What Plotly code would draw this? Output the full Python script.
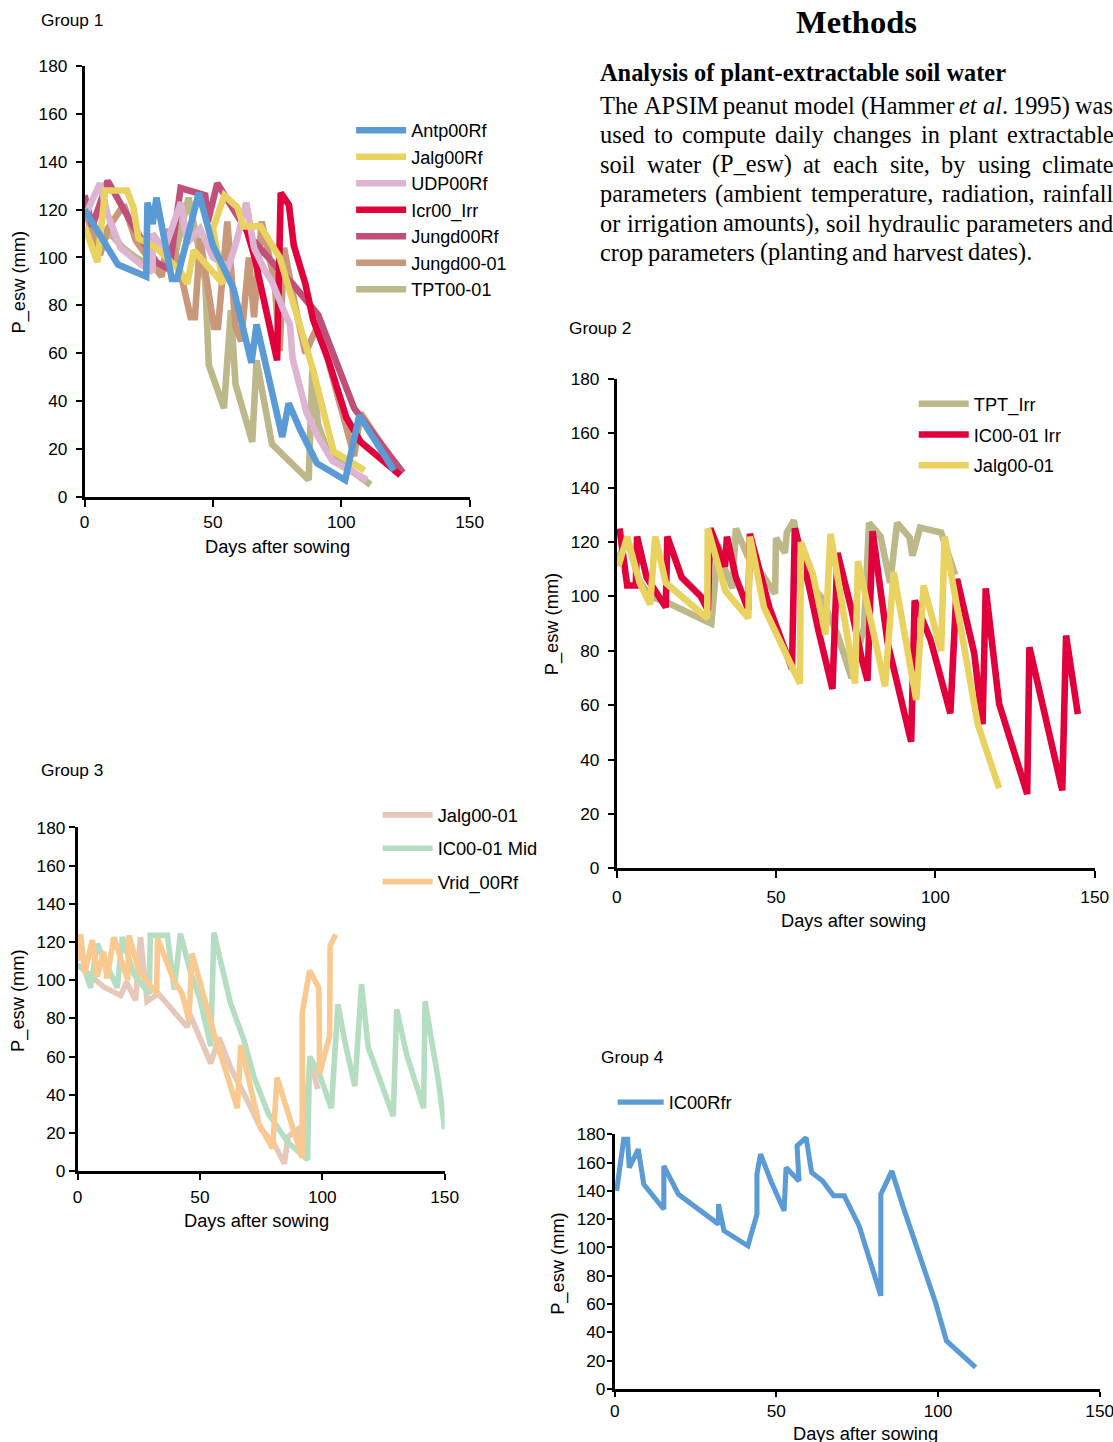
import plotly.graph_objects as go

# Target positions are given in reference-picture pixels (1113 x 1442).
# Measured rendering transform: picture = S * (figure_px + M)
SX, MX = 0.983, 4.5
SY, MY = 0.987, 9.0
W, H = 1128, 1453
def fx(p): return p / SX - MX
def fy(p): return p / SY - MY
def X(p): return fx(p) / W
def Y(p): return 1 - fy(p) / H
K = 1 / 0.985  # size factor

# ---------------- Group 1 data ----------------
antp_day = [0, 13, 24, 24.5, 26.5, 28, 34, 36, 44.5, 50, 58, 65, 67, 77, 79.5, 84, 90.5, 101.5, 107, 120.5]
antp_val = [120, 97, 92, 123, 114, 125, 91, 91, 127, 105, 87, 56, 72, 25, 39, 28, 14, 7, 34, 11]

jalgrf_day = [0, 5, 8, 16.5, 19, 21, 28, 37.5, 40, 42.5, 54, 50, 54.5, 59.5, 62, 68.5, 76, 84, 89, 97, 109]
jalgrf_val = [113, 98, 128, 128, 121, 108, 104, 94, 89, 103, 89, 112, 126, 121, 113, 113, 100, 72, 53, 19, 11]

udp_day = [0, 6, 9, 14, 22, 26.5, 26.5, 31, 37.5, 40, 45, 50, 56, 59, 63, 66, 70, 73, 77.5, 80, 81, 86.5, 91, 96.5, 110]
udp_val = [117, 131, 118, 104, 97, 94, 110, 103, 123, 106, 112, 100, 96, 106, 123, 104, 95, 90, 78, 72, 58, 35, 25, 15, 7]

icr_day = [63, 66, 75, 76.4, 79.6, 81.5, 86, 89, 95, 102, 107.5, 123]
icr_val = [112, 101, 57, 127, 122, 105, 89, 74, 57, 33, 23, 9]

jungrf_day = [0, 3, 9, 19, 28, 33, 37.4, 47, 48, 51.7, 58, 65, 76.4, 81, 91, 100, 105, 124]
jungrf_val = [126, 113, 132, 113, 98, 95, 129, 126, 115, 131, 120, 108, 94, 89, 76, 52, 37, 10]

jung01_day = [0, 6, 9, 15.3, 20, 25, 30, 33, 36, 41.3, 43, 45, 50.4, 52, 55.6, 58.8, 61, 64, 66, 69, 74, 76, 77.7, 82, 86, 91, 105, 107.5, 123]
jung01_val = [120, 101, 112, 122, 107, 100, 92, 112, 100, 75, 75, 108, 71, 71, 115, 71, 65, 100, 75, 115, 90, 61, 104, 80, 60, 72, 17, 35, 10]

tpt01_day = [0, 5, 10, 15, 20, 25, 30, 35, 40.5, 44, 47, 48.4, 54.3, 57, 58.8, 65.3, 67, 73, 87.3, 88.7, 91, 95, 111.4]
tpt01_val = [113, 105, 110, 104, 100, 97, 95, 100, 125, 105, 90, 55, 37, 78, 47, 23, 57, 22, 7, 53, 30, 18, 5]

# ---------------- Group 2 data ----------------
tptirr_day = [0, 3.3, 7, 10.5, 15.4, 28.6, 29.7, 31.9, 34, 36.3, 37.4, 41, 45.7, 49.7, 50, 52.8, 53.4, 55.6, 57, 60, 64, 69.3, 73.7, 77.6, 79.2, 82.8, 85.8, 88, 91.9, 92.8, 95.2, 101.8, 106.2]
tptirr_val = [113, 121, 106, 100, 98, 90, 90, 119, 110, 103, 125, 115, 108, 101, 121.5, 116, 123.5, 128, 118, 105, 100, 86, 70, 88.6, 127, 122, 105, 127, 121.7, 115, 125.3, 123.5, 108]

ic01irr_day = [0.9, 3.3, 6, 6.4, 9.4, 15.4, 15.9, 20.4, 26.4, 28.6, 29.4, 34, 34.6, 37.4, 41.3, 41.8, 47.9, 55, 55.9, 59.4, 63.3, 67.7, 69.3, 73.7, 77, 78.7, 80.3, 85, 92.4, 93.5, 98.5, 104.7, 106.8, 112.2, 114.8, 115.8, 120, 128.8, 129.5, 139.8, 141, 144.7]
ic01irr_val = [125, 104, 104, 122, 107, 96, 122, 107, 100, 95, 125, 111, 122, 107, 95, 123, 96, 73.5, 125, 109, 87.5, 66, 116, 95, 76.5, 69, 124, 83, 46.6, 98.5, 84, 57, 106.4, 79, 53, 103, 60.5, 27.4, 81.3, 28.7, 85.6, 56.8]

jalg01_day = [0.5, 3.3, 7.2, 10.5, 12.1, 15.4, 28.4, 28.6, 34.1, 41.3, 41.8, 46.2, 57.5, 57.8, 61.6, 65.5, 67.1, 74.8, 75.7, 84.2, 86.9, 94, 96.3, 101.8, 102.9, 113.3, 120]
jalg01_val = [111, 122, 105, 97, 122, 105, 92, 125, 102, 92, 122, 96, 68, 120, 108, 86, 123, 68, 113, 67, 109, 62, 104, 80, 122, 53, 29.5]

# ---------------- Group 3 data ----------------
vrid_day = [0, 1.2, 3, 6, 8, 10.6, 12, 14.8, 20.5, 21, 25, 32.3, 32.7, 39.3, 42.7, 45.5, 46.8, 55.8, 65.3, 66.7, 74.2, 79.7, 81.5, 91.8, 91.8, 94.8, 98.6, 98.9, 103, 103.2, 105.5]
vrid_val = [110, 124, 104, 121, 102, 115, 101, 122.5, 100, 123.5, 105, 93, 122, 100, 93, 79, 114, 72, 33, 66, 24.5, 12, 49, 7, 83, 105, 96, 51, 71, 118, 124]

ic01mid_day = [0, 3, 5.3, 8, 16.2, 18.3, 23, 29.3, 29.7, 36.7, 39.5, 42, 46, 50, 54.4, 55.7, 62.5, 68, 72.2, 78, 86, 94, 94.8, 98.5, 103.7, 106.4, 109.2, 113.3, 116, 118.8, 129, 130.4, 134.5, 141.4, 142, 147.5, 150]
ic01mid_val = [108, 105, 96, 119, 96, 122.6, 103, 93, 123.5, 123.5, 95, 124.4, 105, 90, 65.5, 125, 88, 68.5, 49, 30, 15, 6, 60, 52, 33, 87.4, 68, 44.6, 98, 64.7, 28.8, 84.8, 61, 33, 89, 47, 22]

jalg01b_day = [0, 1.2, 10.8, 17.6, 20, 23.7, 25.7, 28.4, 33, 44.8, 46, 54.4, 57.8, 62.6, 69, 75, 80, 84.5, 86, 90, 92, 95, 98.2]
jalg01b_val = [108, 107, 96.4, 92, 99, 89.5, 122.6, 89, 93, 75.5, 82, 56.5, 70, 54, 38, 22, 15, 4, 18, 22, 15, 58, 43]

# ---------------- Group 4 data ----------------
ic00rfr_day = [0.6, 2.8, 4, 4.5, 7.3, 9, 15.2, 15.2, 19.7, 32.1, 32.1, 33.8, 41.2, 44, 44, 45.1, 48.5, 52.4, 53, 57, 56.4, 59.2, 60.9, 64.3, 67.7, 71, 75.6, 82.3, 82.3, 85.7, 89.1, 95.9, 99.2, 102.6, 111.6]
ic00rfr_val = [140, 176.5, 176.5, 156.5, 169.4, 144.7, 127, 157.6, 137.6, 116.5, 130.6, 111.8, 101.2, 123.5, 151.8, 165.9, 145.9, 125.9, 156.5, 147, 171.8, 177.6, 153, 147, 136.5, 136.5, 115.3, 65.9, 137.6, 154, 129.4, 84.7, 61.2, 34.1, 15.3]

C_BLUE = "#5b9bd5"; C_YEL = "#e9d25f"; C_PINK = "#ddb4d2"; C_RED = "#e2003c"
C_MAUVE = "#c0507a"; C_SALMON = "#c9977a"; C_OLIVE = "#bdb88a"
C_ORANGE = "#f9c98f"; C_GREEN = "#b5ddc1"; C_BEIGE = "#e6c8ba"

fig = go.Figure()

def add(name, xs, ys, color, width, xa, ya, legend, group=None):
    fig.add_trace(go.Scatter(x=xs, y=ys, mode="lines", name=name,
                             line=dict(color=color, width=width * K),
                             xaxis=xa, yaxis=ya, legend=legend,
                             legendgroup=group or name, hoverinfo="skip"))

# Group 1 (drawn bottom to top; legend reversed)
add("TPT00-01", tpt01_day, tpt01_val, C_OLIVE, 6.5, "x", "y", "legend")
add("Jungd00-01", jung01_day, jung01_val, C_SALMON, 6.5, "x", "y", "legend")
add("Jungd00Rf", jungrf_day, jungrf_val, C_MAUVE, 6.5, "x", "y", "legend")
add("Icr00_Irr", icr_day, icr_val, C_RED, 6.5, "x", "y", "legend")
add("UDP00Rf", udp_day, udp_val, C_PINK, 6.5, "x", "y", "legend")
add("Jalg00Rf", jalgrf_day, jalgrf_val, C_YEL, 6.5, "x", "y", "legend")
add("Antp00Rf", antp_day, antp_val, C_BLUE, 6.5, "x", "y", "legend")

# Group 2
add("TPT_Irr", tptirr_day, tptirr_val, C_OLIVE, 6.5, "x2", "y2", "legend2")
add("IC00-01 Irr", ic01irr_day, ic01irr_val, C_RED, 6.5, "x2", "y2", "legend2")
add("Jalg00-01", jalg01_day, jalg01_val, C_YEL, 6.5, "x2", "y2", "legend2", "g2jalg")

# Group 3
add("Jalg00-01", jalg01b_day, jalg01b_val, C_BEIGE, 5.5, "x3", "y3", "legend3", "g3jalg")
add("IC00-01 Mid", ic01mid_day, ic01mid_val, C_GREEN, 5.5, "x3", "y3", "legend3")
add("Vrid_00Rf", vrid_day, vrid_val, C_ORANGE, 5.5, "x3", "y3", "legend3")

# Group 4
add("IC00Rfr", ic00rfr_day, ic00rfr_val, C_BLUE, 5, "x4", "y4", "legend4")

SANS = "Liberation Sans"
SERIF = "Liberation Serif"
tickfont = dict(family=SANS, size=17 * K, color="black")
common = dict(showgrid=False, zeroline=False, showline=True, linecolor="black",
              linewidth=2.5 * K, ticks="outside", tickcolor="black", tickwidth=2,
              tickfont=tickfont, fixedrange=True)

def xax(x0, x1, yb, anchor, tl, so):
    return dict(common, domain=[X(x0), X(x1)], anchor=anchor, range=[0, 150],
                tickvals=[0, 50, 100, 150], ticklen=tl, ticklabelstandoff=so)

def yax(yb, yt, anchor, tl, so):
    return dict(common, domain=[Y(yb), Y(yt)], anchor=anchor, range=[0, 180],
                tickvals=list(range(0, 181, 20)), ticklen=tl, ticklabelstandoff=so)

def leg(xp, yp, order, gap=0, iw=50, fs=18):
    return dict(x=X(xp), y=Y(yp), xanchor="left", yanchor="top", xref="paper", yref="paper",
                bgcolor="rgba(0,0,0,0)", font=dict(family=SANS, size=fs * K, color="black"),
                itemwidth=iw, traceorder=order, tracegroupgap=gap,
                itemclick=False, itemdoubleclick=False)

annotations = []
def txt(text, xp, yp, size, family=SANS, xanchor="left", angle=0, bold=False):
    annotations.append(dict(text=("<b>%s</b>" % text) if bold else text,
                            x=X(xp), y=Y(yp), xref="paper", yref="paper",
                            showarrow=False, xanchor=xanchor, yanchor="middle",
                            textangle=angle,
                            font=dict(family=family, size=size * K, color="black")))

# group labels
txt("Group 1", 38, 18.5, 17)
txt("Group 2", 566, 327.5, 17)
txt("Group 3", 38, 769.5, 17)
txt("Group 4", 598, 1056.5, 17)
# axis titles
for (xc, yc) in [(277, 546), (853, 920), (256, 1220), (865, 1433)]:
    txt("Days after sowing", xc, yc, 18, xanchor="center")
for (xc, yc) in [(18, 281), (551, 623), (18, 1000), (557, 1263)]:
    txt("P_esw (mm)", xc, yc, 18, xanchor="center", angle=-90)

# Methods text
txt("Methods", 856, 21, 32, family=SERIF, xanchor="center", bold=True)
txt("Analysis of plant-extractable soil water", 597, 71.5, 24, family=SERIF, bold=True)

TW = {' ': 250, '(': 333, ')': 333, ',': 250, '-': 333, '.': 250, '_': 500}
for d in "0123456789": TW[d] = 500
TW.update(dict(A=722, B=667, C=667, D=722, E=611, F=556, G=722, H=722, I=333, J=389, K=722,
               L=611, M=889, N=722, O=722, P=556, Q=722, R=667, S=556, T=611, U=722, V=722,
               W=944, X=722, Y=722, Z=611))
TW.update(dict(a=444, b=500, c=444, d=500, e=444, f=333, g=500, h=500, i=278, j=278, k=500,
               l=278, m=778, n=500, o=500, p=500, q=500, r=333, s=389, t=278, u=500, v=500,
               w=722, x=500, y=500, z=444))
def width(s, size):
    return sum(TW.get(ch, 500) for ch in s) * size / 1000.0

para = [
    ["The", "APSIM", "peanut", "model", "(Hammer", ("<i>et</i>", "et"), ("<i>al</i>.", "al."), "1995)", "was"],
    "used to compute daily changes in plant extractable".split(),
    "soil water (P_esw) at each site, by using climate".split(),
    "parameters (ambient temperature, radiation, rainfall".split(),
    "or irrigation amounts), soil hydraulic parameters and".split(),
    "crop parameters (planting and harvest dates).".split(),
]
FS = 24
LEFT, RIGHT = 599, 1112
for li, words in enumerate(para):
    yc = 104.5 + li * 29.4
    items = [(w, w) if isinstance(w, str) else w for w in words]
    widths = [width(p, FS) for _, p in items]   # widths in picture pixels
    if li < len(para) - 1:
        gap = (RIGHT - LEFT - sum(widths)) / (len(items) - 1)
    else:
        gap = 250 * FS / 1000.0
    xcur = LEFT
    for (html, plain), wdt in zip(items, widths):
        annotations.append(dict(text=html, x=X(xcur), y=Y(yc), xref="paper", yref="paper",
                                showarrow=False, xanchor="left", yanchor="middle", xshift=-2,
                                font=dict(family=SERIF, size=FS * K, color="black")))
        xcur += wdt + gap

fig.update_layout(
    width=W, height=H, margin=dict(l=0, r=0, t=0, b=0, pad=0),
    paper_bgcolor="white", plot_bgcolor="white", showlegend=True,
    xaxis=xax(84, 469, 496, "y", 7, 1), yaxis=yax(496, 65, "x", 6, 5),
    xaxis2=xax(616, 1094, 868, "y2", 7, 4), yaxis2=yax(868, 378, "x2", 6, 5),
    xaxis3=xax(77, 444, 1171, "y3", 6, 2), yaxis3=yax(1171, 827, "x3", 6, 0),
    xaxis4=xax(614, 1099, 1389, "y4", 5, -1), yaxis4=yax(1389, 1134, "x4", 5, -2),
    legend=leg(350.5, 111, "reversed", 0, 50, 17.8),
    legend2=leg(913, 384.5, "grouped", 4),
    legend3=leg(377, 796, "reversed+grouped", 6.6),
    legend4=leg(612, 1083.5, "normal", 0, 46),
    annotations=annotations,
)

fig.write_html("out.html", config={"displayModeBar": False})
